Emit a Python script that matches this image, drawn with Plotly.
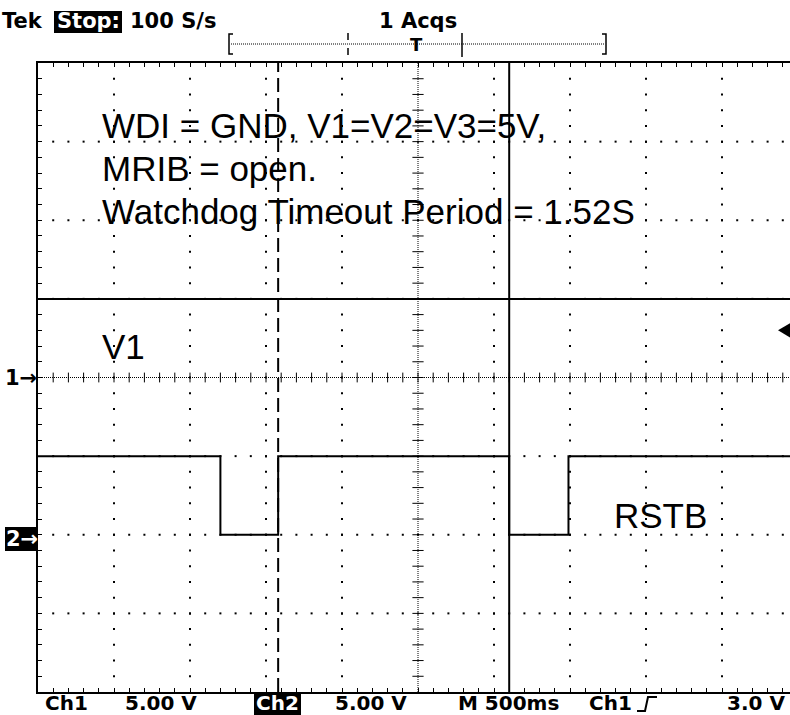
import numpy as np
import plotly.graph_objects as go

# ---------------- data ----------------
sec_per_div = 0.5          # M 500ms
volts_per_div = 5.0        # Ch1 / Ch2 5.00 V
ch1_offset = 0.0           # ground marker "1->" on centre line
ch2_offset = -10.0         # ground marker "2->" two divisions lower
trigger_level = 3.0        # Ch1 rising, 3.0 V

v1_t = [0.0, 4.95]
v1_v = [5.0, 5.0]

rstb_t = [0.0, 1.20, 1.58, 3.10, 3.49, 4.95]
rstb_v = [5.0, 0.0, 5.0, 0.0, 5.0, 5.0]

cursor_t = [1.58, 3.10]    # dashed, solid

note_lines = ["WDI = GND, V1=V2=V3=5V,", "MRIB = open.", "Watchdog Timeout Period = 1.52S"]
trace_labels = ["V1", "RSTB"]
header_texts = ["Tek", "Stop:", "100 S/s", "1 Acqs"]
readout_texts = ["Ch1", "5.00 V", "Ch2", "5.00 V", "M 500ms", "Ch1", "3.0 V"]

# ---------------- geometry ----------------
W, H = 790, 715
L, T, B = 38, 63, 23
PW = W - L
PH = H - T - B
px_per_div = 76.0
x_max = PW / px_per_div * sec_per_div
y_half = 4 * volts_per_div


def xp(px):
    return (px - L) / PW


def yp(py):
    return (H - B - py) / PH


fig = go.Figure()

# ---------------- graticule ----------------
minor_x = sec_per_div / 5
minor_y = volts_per_div / 5
major_x = [i * sec_per_div for i in range(1, 10) if i * sec_per_div < x_max and i != 5]
major_y = [i * volts_per_div for i in range(-3, 4) if i != 0]
centre_x = 5 * sec_per_div
xs_minor = [i * minor_x for i in range(1, int(x_max / minor_x) + 1)]
ys_minor = [i * minor_y for i in range(-19, 20)]

gx, gy = [], []
for mx in major_x:
    for y in ys_minor:
        gx.append(mx); gy.append(y)
for my in major_y:
    for x in xs_minor:
        gx.append(x); gy.append(my)
fig.add_trace(go.Scatter(x=gx, y=gy, mode="markers", hoverinfo="skip",
                         marker=dict(symbol="square", size=2, color="black", line=dict(width=0)),
                         showlegend=False))
# centre line tick crosses
fig.add_trace(go.Scatter(x=xs_minor, y=[0] * len(xs_minor), mode="markers", hoverinfo="skip",
                         marker=dict(symbol="line-ns", size=7, line=dict(width=1, color="black")),
                         showlegend=False))
fig.add_trace(go.Scatter(x=[centre_x] * len(ys_minor), y=ys_minor, mode="markers", hoverinfo="skip",
                         marker=dict(symbol="line-ew", size=8, line=dict(width=1, color="black")),
                         showlegend=False))

shapes = []
shapes.append(dict(type="line", xref="paper", yref="y", x0=0, x1=1, y0=0, y1=0,
                   line=dict(color="black", width=1, dash="1px,1px")))
shapes.append(dict(type="line", xref="x", yref="paper", x0=centre_x, x1=centre_x, y0=0, y1=1,
                   line=dict(color="black", width=1, dash="1px,1px")))

# ---------------- traces ----------------
fig.add_trace(go.Scatter(x=v1_t, y=np.array(v1_v) + ch1_offset, mode="lines",
                         line=dict(color="black", width=2), showlegend=False, name="V1"))
fig.add_trace(go.Scatter(x=rstb_t, y=np.array(rstb_v) + ch2_offset, mode="lines",
                         line=dict(color="black", width=2, shape="hv"), showlegend=False, name="RSTB"))

# ---------------- cursors ----------------
shapes.append(dict(type="line", xref="x", yref="paper", x0=cursor_t[0], x1=cursor_t[0], y0=0, y1=1,
                   line=dict(color="black", width=2, dash="14px,6px")))
shapes.append(dict(type="line", xref="x", yref="paper", x0=cursor_t[1], x1=cursor_t[1], y0=0, y1=1,
                   line=dict(color="black", width=2)))

# trigger level arrow at right edge
ty = trigger_level + ch1_offset
shapes.append(dict(type="path", xref="paper", yref="y",
                   path=f"M {xp(778)} {ty} L {xp(790)} {ty + 0.45} L {xp(790)} {ty - 0.45} Z",
                   fillcolor="black", line=dict(width=0)))

# ---------------- header record bar ----------------
bar_y = yp(44)
shapes.append(dict(type="line", xref="paper", yref="paper", x0=xp(231), x1=xp(604), y0=bar_y, y1=bar_y,
                   line=dict(color="black", width=1, dash="1px,1px")))
shapes.append(dict(type="path", xref="paper", yref="paper",
                   path=f"M {xp(233)} {yp(34)} L {xp(229)} {yp(34)} L {xp(229)} {yp(54)} L {xp(233)} {yp(54)}",
                   line=dict(color="black", width=1.5)))
shapes.append(dict(type="path", xref="paper", yref="paper",
                   path=f"M {xp(602)} {yp(34)} L {xp(606)} {yp(34)} L {xp(606)} {yp(54)} L {xp(602)} {yp(54)}",
                   line=dict(color="black", width=1.5)))
for y0, y1 in [(33, 40), (48, 55)]:
    shapes.append(dict(type="line", xref="paper", yref="paper", x0=xp(348), x1=xp(348),
                       y0=yp(y0), y1=yp(y1), line=dict(color="black", width=1.5)))
shapes.append(dict(type="line", xref="paper", yref="paper", x0=xp(462), x1=xp(462),
                   y0=yp(33), y1=yp(57), line=dict(color="black", width=1.5)))

# inverted label boxes
shapes.append(dict(type="rect", xref="paper", yref="paper", x0=xp(54), x1=xp(122), y0=yp(33), y1=yp(11),
                   fillcolor="black", line=dict(width=0)))
shapes.append(dict(type="rect", xref="paper", yref="paper", x0=xp(254), x1=xp(301), y0=yp(715), y1=yp(693),
                   fillcolor="black", line=dict(width=0)))
shapes.append(dict(type="rect", xref="paper", yref="paper", x0=xp(5), x1=xp(37), y0=yp(551), y1=yp(527),
                   fillcolor="black", line=dict(width=0)))

# trigger slope symbol
shapes.append(dict(type="path", xref="paper", yref="paper",
                   path=f"M {xp(637)} {yp(711)} L {xp(645)} {yp(711)} L {xp(648)} {yp(697)} L {xp(657)} {yp(697)}",
                   line=dict(color="black", width=2)))

# ---------------- annotations ----------------
ann = []
big = dict(family="Liberation Sans, Arial, sans-serif", size=35, color="black")
for txt, cy in zip(note_lines, [125.5, 168.5, 211.5]):
    ann.append(dict(text=txt, x=xp(101), y=yp(cy), xref="paper", yref="paper",
                    xanchor="left", yanchor="middle", showarrow=False, font=big, borderpad=0))
ann.append(dict(text=trace_labels[0], x=xp(101), y=yp(346.5), xref="paper", yref="paper",
                xanchor="left", yanchor="middle", showarrow=False, font=big, borderpad=0))
ann.append(dict(text=trace_labels[1], x=xp(613), y=yp(515.5), xref="paper", yref="paper",
                xanchor="left", yanchor="middle", showarrow=False, font=big, borderpad=0))

tek = dict(family="DejaVu Sans, sans-serif", size=21, color="black", weight="bold")
tek_w = dict(family="DejaVu Sans, sans-serif", size=21, color="white", weight="bold")
rd = dict(family="DejaVu Sans, sans-serif", size=20, color="black", weight="bold")
rd_w = dict(family="DejaVu Sans, sans-serif", size=20, color="white", weight="bold")
for txt, x0, f in [(header_texts[0], 1, tek), (header_texts[1], 56, tek_w),
                   (header_texts[2], 129, tek), (header_texts[3], 378, tek)]:
    ann.append(dict(text=txt, x=xp(x0), y=yp(21), xref="paper", yref="paper",
                    xanchor="left", yanchor="middle", showarrow=False, font=f, borderpad=0))
ann.append(dict(text="T", x=xp(416), y=yp(44), xref="paper", yref="paper",
                xanchor="center", yanchor="middle", showarrow=False,
                font=dict(family="DejaVu Sans, sans-serif", size=18, color="black", weight="bold"),
                borderpad=0))

for txt, x0, f in zip(readout_texts, [44, 124, 255, 334, 457, 588, 726],
                      [rd, rd, rd_w, rd, rd, rd, rd]):
    ann.append(dict(text=txt, x=xp(x0), y=yp(703), xref="paper", yref="paper",
                    xanchor="left", yanchor="middle", showarrow=False, font=f, borderpad=0))

ann.append(dict(text="1→", x=xp(4), y=yp(378), xref="paper", yref="paper",
                xanchor="left", yanchor="middle", showarrow=False, font=tek, borderpad=0))
ann.append(dict(text="2→", x=xp(5), y=yp(539), xref="paper", yref="paper",
                xanchor="left", yanchor="middle", showarrow=False, font=tek_w, borderpad=0))

fig.update_layout(
    width=W, height=H,
    margin=dict(l=L, r=0, t=T, b=B, pad=0),
    paper_bgcolor="white", plot_bgcolor="white",
    shapes=shapes, annotations=ann,
    xaxis=dict(range=[0, x_max], showgrid=False, zeroline=False, showticklabels=False,
               ticks="inside", dtick=minor_x, tick0=0, ticklen=4, tickcolor="black",
               showline=True, linecolor="black", linewidth=2, mirror="ticks"),
    yaxis=dict(range=[-y_half, y_half], showgrid=False, zeroline=False, showticklabels=False,
               ticks="inside", dtick=minor_y, tick0=0, ticklen=4, tickcolor="black",
               showline=True, linecolor="black", linewidth=2, mirror=False),
)

fig.write_html("out.html", config={"displayModeBar": False},
               post_script="document.body.style.margin='0px';document.body.style.overflow='hidden';")
